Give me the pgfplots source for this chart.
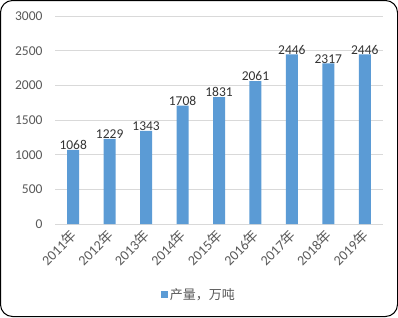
\documentclass[border=0pt]{standalone}
\usepackage{pgfplots}
\pgfplotsset{compat=1.18}
\usepackage{fontspec}
\setmainfont{Carlito}
\newfontfamily\cjk{Noto Sans CJK SC}
\definecolor{barc}{HTML}{5B9BD5}
\definecolor{txt}{HTML}{595959}
\definecolor{gridc}{HTML}{D9D9D9}
\begin{document}
\begin{tikzpicture}[x=1pt,y=1pt]
\draw[black, line width=1pt, rounded corners=12pt] (0.5,0.5) rectangle (397.5,316.5);
\begin{axis}[
  at={(55pt,93pt)}, anchor=south west,
  scale only axis, width=328pt, height=208pt,
  xmin=-0.5, xmax=8.5, ymin=0, ymax=3000,
  ytick={0,500,...,3000},
  xtick={0,...,8},
  xticklabels={2011{\cjk 年},2012{\cjk 年},2013{\cjk 年},2014{\cjk 年},2015{\cjk 年},2016{\cjk 年},2017{\cjk 年},2018{\cjk 年},2019{\cjk 年}},
  /pgf/number format/assume math mode=true,
  /pgf/number format/1000 sep={},
  axis line style={draw=none},
  major tick length=0pt,
  ymajorgrids, grid style={gridc, line width=0.8pt},
  yticklabel style={font=\fontsize{13.5}{15}\selectfont, text=txt, xshift=-9pt},
  xticklabel style={font=\fontsize{14}{16}\selectfont, text=txt, xshift=3pt, yshift=-6pt, rotate=45, anchor=east},
  ybar, bar width=12pt,
  nodes near coords,
  every node near coord/.style={font=\fontsize{13.5}{15}\selectfont, text=black!80, inner sep=1pt, yshift=-1pt, /pgf/number format/fixed, /pgf/number format/1000 sep={}},
  legend style={at={(0.439,-0.341)}, anchor=center, draw=none, fill=none, font=\fontsize{13}{15}\selectfont\cjk, text=txt},
  legend image code/.code={\fill[barc] (0pt,-3.5pt) rectangle (7pt,3.5pt);},
]
\addplot[fill=barc, draw=none] coordinates {(0,1068) (1,1229) (2,1343) (3,1708) (4,1831) (5,2061) (6,2446) (7,2317) (8,2446)};
\addlegendentry{产量，万吨}
\end{axis}
\end{tikzpicture}
\end{document}
